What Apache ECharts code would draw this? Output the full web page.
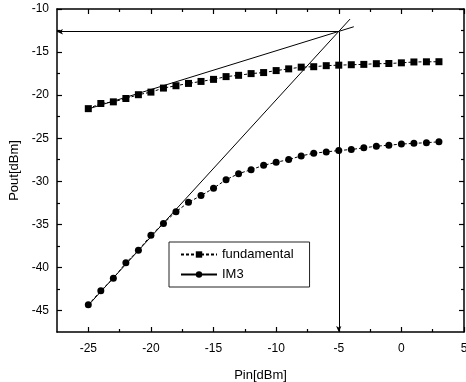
<!DOCTYPE html>
<html>
<head>
<meta charset="utf-8">
<script src="https://cdn.jsdelivr.net/npm/echarts@6/dist/echarts.min.js"></script>
<style>
  html, body { margin: 0; padding: 0; background: #fff; }
  #chart { width: 466px; height: 382px; }
</style>
</head>
<body>
<div id="chart"></div>
<script>
// input power sweep, dBm
const pin = [-25, -24, -23, -22, -21, -20, -19, -18, -17, -16, -15, -14, -13, -12, -11,
  -10, -9, -8, -7, -6, -5, -4, -3, -2, -1, 0, 1, 2, 3];
const fundamental = [-21.57, -20.97, -20.78, -20.39, -19.95, -19.65, -19.18, -18.91, -18.64, -18.41,
  -18.17, -17.85, -17.7, -17.5, -17.38, -17.15, -16.95, -16.75, -16.7, -16.58, -16.52, -16.47,
  -16.43, -16.35, -16.33, -16.25, -16.15, -16.13, -16.12];
const im3 = [-44.35, -42.71, -41.27, -39.47, -38.02, -36.27, -34.9, -33.54, -32.45, -31.66,
  -30.81, -29.82, -29.12, -28.65, -28.15, -27.8, -27.48, -27.06, -26.74, -26.59, -26.43,
  -26.31, -26.12, -25.93, -25.81, -25.68, -25.6, -25.52, -25.42];

// extrapolated asymptotes and the intercept point
const fundLine = [[-25, -21.6], [-3.8, -12.06]];
const im3Line = [[-25, -44.4], [-4.1, -11.17]];
const intercept = [-5, -12.64];

const xMajor = [-25, -20, -15, -10, -5, 0, 5];
const xMinor = [-22.5, -17.5, -12.5, -7.5, -2.5, 2.5];
const yMajor = [-45, -40, -35, -30, -25, -20, -15, -10];
const yMinor = [-42.5, -37.5, -32.5, -27.5, -22.5, -17.5, -12.5];

const X_MIN = -27.5, X_MAX = 5, Y_MIN = -47.5, Y_MAX = -10;
const font = "Liberation Sans, Arial, sans-serif";

function axis(pos, min, max, ticks, len, withLine, withLabels, extra) {
  return Object.assign({
    type: "value",
    position: pos,
    min: min,
    max: max,
    interval: 2.5,
    axisLine: { show: withLine, onZero: false, lineStyle: { color: "#000", width: 1.5 } },
    axisTick: { show: true, inside: true, length: len, customValues: ticks,
      lineStyle: { color: "#000", width: 1.2 } },
    axisLabel: withLabels
      ? { show: true, customValues: ticks, color: "#000", fontSize: 12, fontFamily: font,
          margin: pos === "bottom" ? 11 : 8 }
      : { show: false },
    splitLine: { show: false },
  }, extra || {});
}

const chart = echarts.init(document.getElementById("chart"));

const option = {
  animation: false,
  backgroundColor: "#fff",
  grid: { left: 57, right: 2, top: 9, bottom: 50, containLabel: false, outerBoundsMode: "none" },
  legend: {
    left: 169,
    top: 242,
    orient: "vertical",
    data: [
      { name: "fundamental" },
      { name: "IM3", lineStyle: { type: "solid" } },
    ],
    itemWidth: 36,
    itemHeight: 8,
    itemGap: 7,
    padding: [6, 16, 6, 11],
    borderColor: "#222",
    borderWidth: 1,
    textStyle: { color: "#000", fontSize: 13, fontFamily: font },
  },
  xAxis: [
    axis("bottom", X_MIN, X_MAX, xMajor, 5, true, true, {
      name: "Pin[dBm]",
      nameLocation: "middle",
      nameGap: 37,
      nameTextStyle: { color: "#000", fontSize: 13, fontFamily: font },
    }),
    axis("bottom", X_MIN, X_MAX, xMinor, 3, false, false),
    axis("top", X_MIN, X_MAX, xMajor, 5, true, false),
    axis("top", X_MIN, X_MAX, xMinor, 3, false, false),
  ],
  yAxis: [
    axis("left", Y_MIN, Y_MAX, yMajor, 5, true, true, {
      name: "Pout[dBm]",
      nameLocation: "middle",
      nameGap: 34,
      nameTextStyle: { color: "#000", fontSize: 13, fontFamily: font },
    }),
    axis("left", Y_MIN, Y_MAX, yMinor, 3, false, false),
    axis("right", Y_MIN, Y_MAX, yMajor, 5, true, false),
    axis("right", Y_MIN, Y_MAX, yMinor, 3, false, false),
  ],
  series: [
    {
      name: "fundamental",
      type: "line",
      data: pin.map((x, i) => [x, fundamental[i]]),
      symbol: "rect",
      symbolSize: 7,
      itemStyle: { color: "#000" },
      lineStyle: { color: "#000", width: 1, type: [3, 2] },
      z: 3,
    },
    {
      name: "IM3",
      type: "line",
      data: pin.map((x, i) => [x, im3[i]]),
      symbol: "circle",
      symbolSize: 7,
      itemStyle: { color: "#000" },
      lineStyle: { color: "#000", width: 1, type: [3, 2] },
      z: 3,
    },
    {
      type: "line",
      data: fundLine,
      symbol: "none",
      silent: true,
      lineStyle: { color: "#000", width: 1 },
    },
    {
      type: "line",
      data: im3Line,
      symbol: "none",
      silent: true,
      lineStyle: { color: "#000", width: 1 },
      markLine: {
        silent: true,
        symbol: ["none", "arrow"],
        symbolSize: [4, 6],
        label: { show: false },
        lineStyle: { color: "#000", width: 1, type: "solid" },
        data: [
          [{ coord: intercept }, { coord: [X_MIN, intercept[1]] }],
          [{ coord: intercept }, { coord: [intercept[0], Y_MIN] }],
        ],
      },
    },
  ],
};

chart.setOption(option);
</script>
</body>
</html>
